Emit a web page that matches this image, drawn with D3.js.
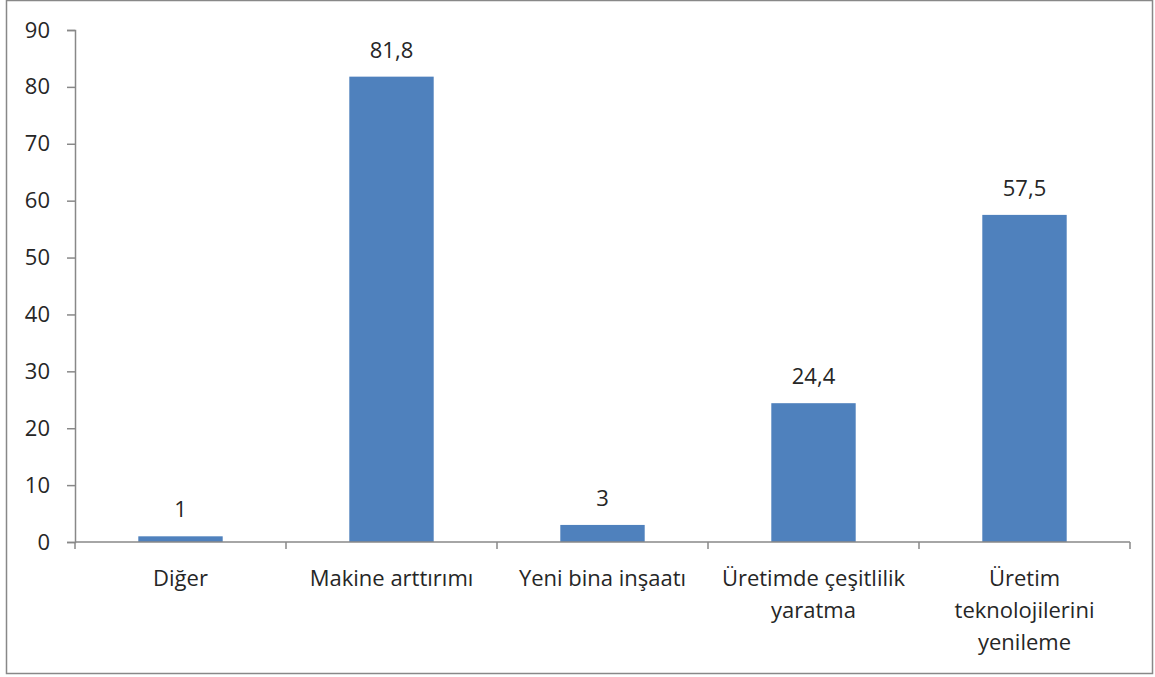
<!DOCTYPE html>
<html>
<head>
<meta charset="utf-8">
<script src="https://cdn.jsdelivr.net/npm/d3@7"></script>
<style>
  body { margin: 0; background: #fff; }
  text { font-family: "Open Sans", "Liberation Sans", sans-serif; fill: #262626; }
</style>
</head>
<body>
<svg id="chart" width="1155" height="677"></svg>
<script>
const categories = ['Diğer', 'Makine arttırımı', 'Yeni bina inşaatı', 'Üretimde çeşitlilik yaratma', 'Üretim teknolojilerini yenileme'];
const categoryLines = [['Diğer'], ['Makine arttırımı'], ['Yeni bina inşaatı'], ['Üretimde çeşitlilik', 'yaratma'], ['Üretim', 'teknolojilerini', 'yenileme']];
const values = [1, 81.8, 3, 24.4, 57.5];
const valueLabels = ['1', '81,8', '3', '24,4', '57,5'];
const yTicks = [0, 10, 20, 30, 40, 50, 60, 70, 80, 90];

const fontSize = '22px';
const svg = d3.select('#chart');

// outer frame
svg.append('rect')
    .attr('x', 6.5).attr('y', 0.5)
    .attr('width', 1146).attr('height', 673)
    .attr('fill', 'none')
    .attr('stroke', '#888')
    .attr('stroke-width', 1.5);

const margin = { top: 30, left: 75, right: 25, bottom: 135 };
const width = 1155 - margin.left - margin.right;
const height = 677 - margin.top - margin.bottom;

const g = svg.append('g')
    .attr('transform', `translate(${margin.left}, ${margin.top})`);

const xScale = d3.scaleBand()
    .domain(categories)
    .range([0, width])
    .padding(0);

const yScale = d3.scaleLinear()
    .domain([0, 90])
    .range([height, 0]);

// y axis
const yAxis = g.append('g')
    .call(d3.axisLeft(yScale).tickValues(yTicks).tickSize(8).tickPadding(17));
yAxis.select('.domain').attr('stroke', '#888').attr('stroke-width', 1.5);
yAxis.selectAll('.tick line').attr('stroke', '#888').attr('stroke-width', 1.5);
yAxis.selectAll('.tick text')
    .style('font-size', fontSize)
    .attr('fill', '#262626');

// bars
const barW = xScale.bandwidth() * 0.4;
g.selectAll('.bar')
    .data(values)
    .enter()
    .append('rect')
    .attr('class', 'bar')
    .attr('x', (d, i) => xScale(categories[i]) + (xScale.bandwidth() - barW) / 2)
    .attr('y', d => yScale(d))
    .attr('width', barW)
    .attr('height', d => yScale(0) - yScale(d))
    .attr('fill', '#4F81BD');

// value labels
g.selectAll('.val')
    .data(values)
    .enter()
    .append('text')
    .attr('class', 'val')
    .attr('x', (d, i) => xScale(categories[i]) + xScale.bandwidth() / 2)
    .attr('y', d => yScale(d) - 19)
    .attr('text-anchor', 'middle')
    .style('font-size', fontSize)
    .text((d, i) => valueLabels[i]);

// x axis line and boundary ticks
g.append('line')
    .attr('x1', 0).attr('x2', width)
    .attr('y1', height).attr('y2', height)
    .attr('stroke', '#888').attr('stroke-width', 1.5);

const bounds = categories.map(c => xScale(c)).concat([width]);
g.selectAll('.xtick')
    .data(bounds)
    .enter()
    .append('line')
    .attr('x1', d => d).attr('x2', d => d)
    .attr('y1', height).attr('y2', height + 7)
    .attr('stroke', '#888').attr('stroke-width', 1.5);

// category labels
const cat = g.selectAll('.cat')
    .data(categoryLines)
    .enter()
    .append('text')
    .attr('class', 'cat')
    .attr('text-anchor', 'middle')
    .style('font-size', fontSize)
    .attr('transform', (d, i) => `translate(${xScale(categories[i]) + xScale.bandwidth() / 2}, ${height + 44})`);

cat.selectAll('tspan')
    .data(d => d)
    .enter()
    .append('tspan')
    .attr('x', 0)
    .attr('y', (d, i) => i * 32)
    .text(d => d);
</script>
</body>
</html>
